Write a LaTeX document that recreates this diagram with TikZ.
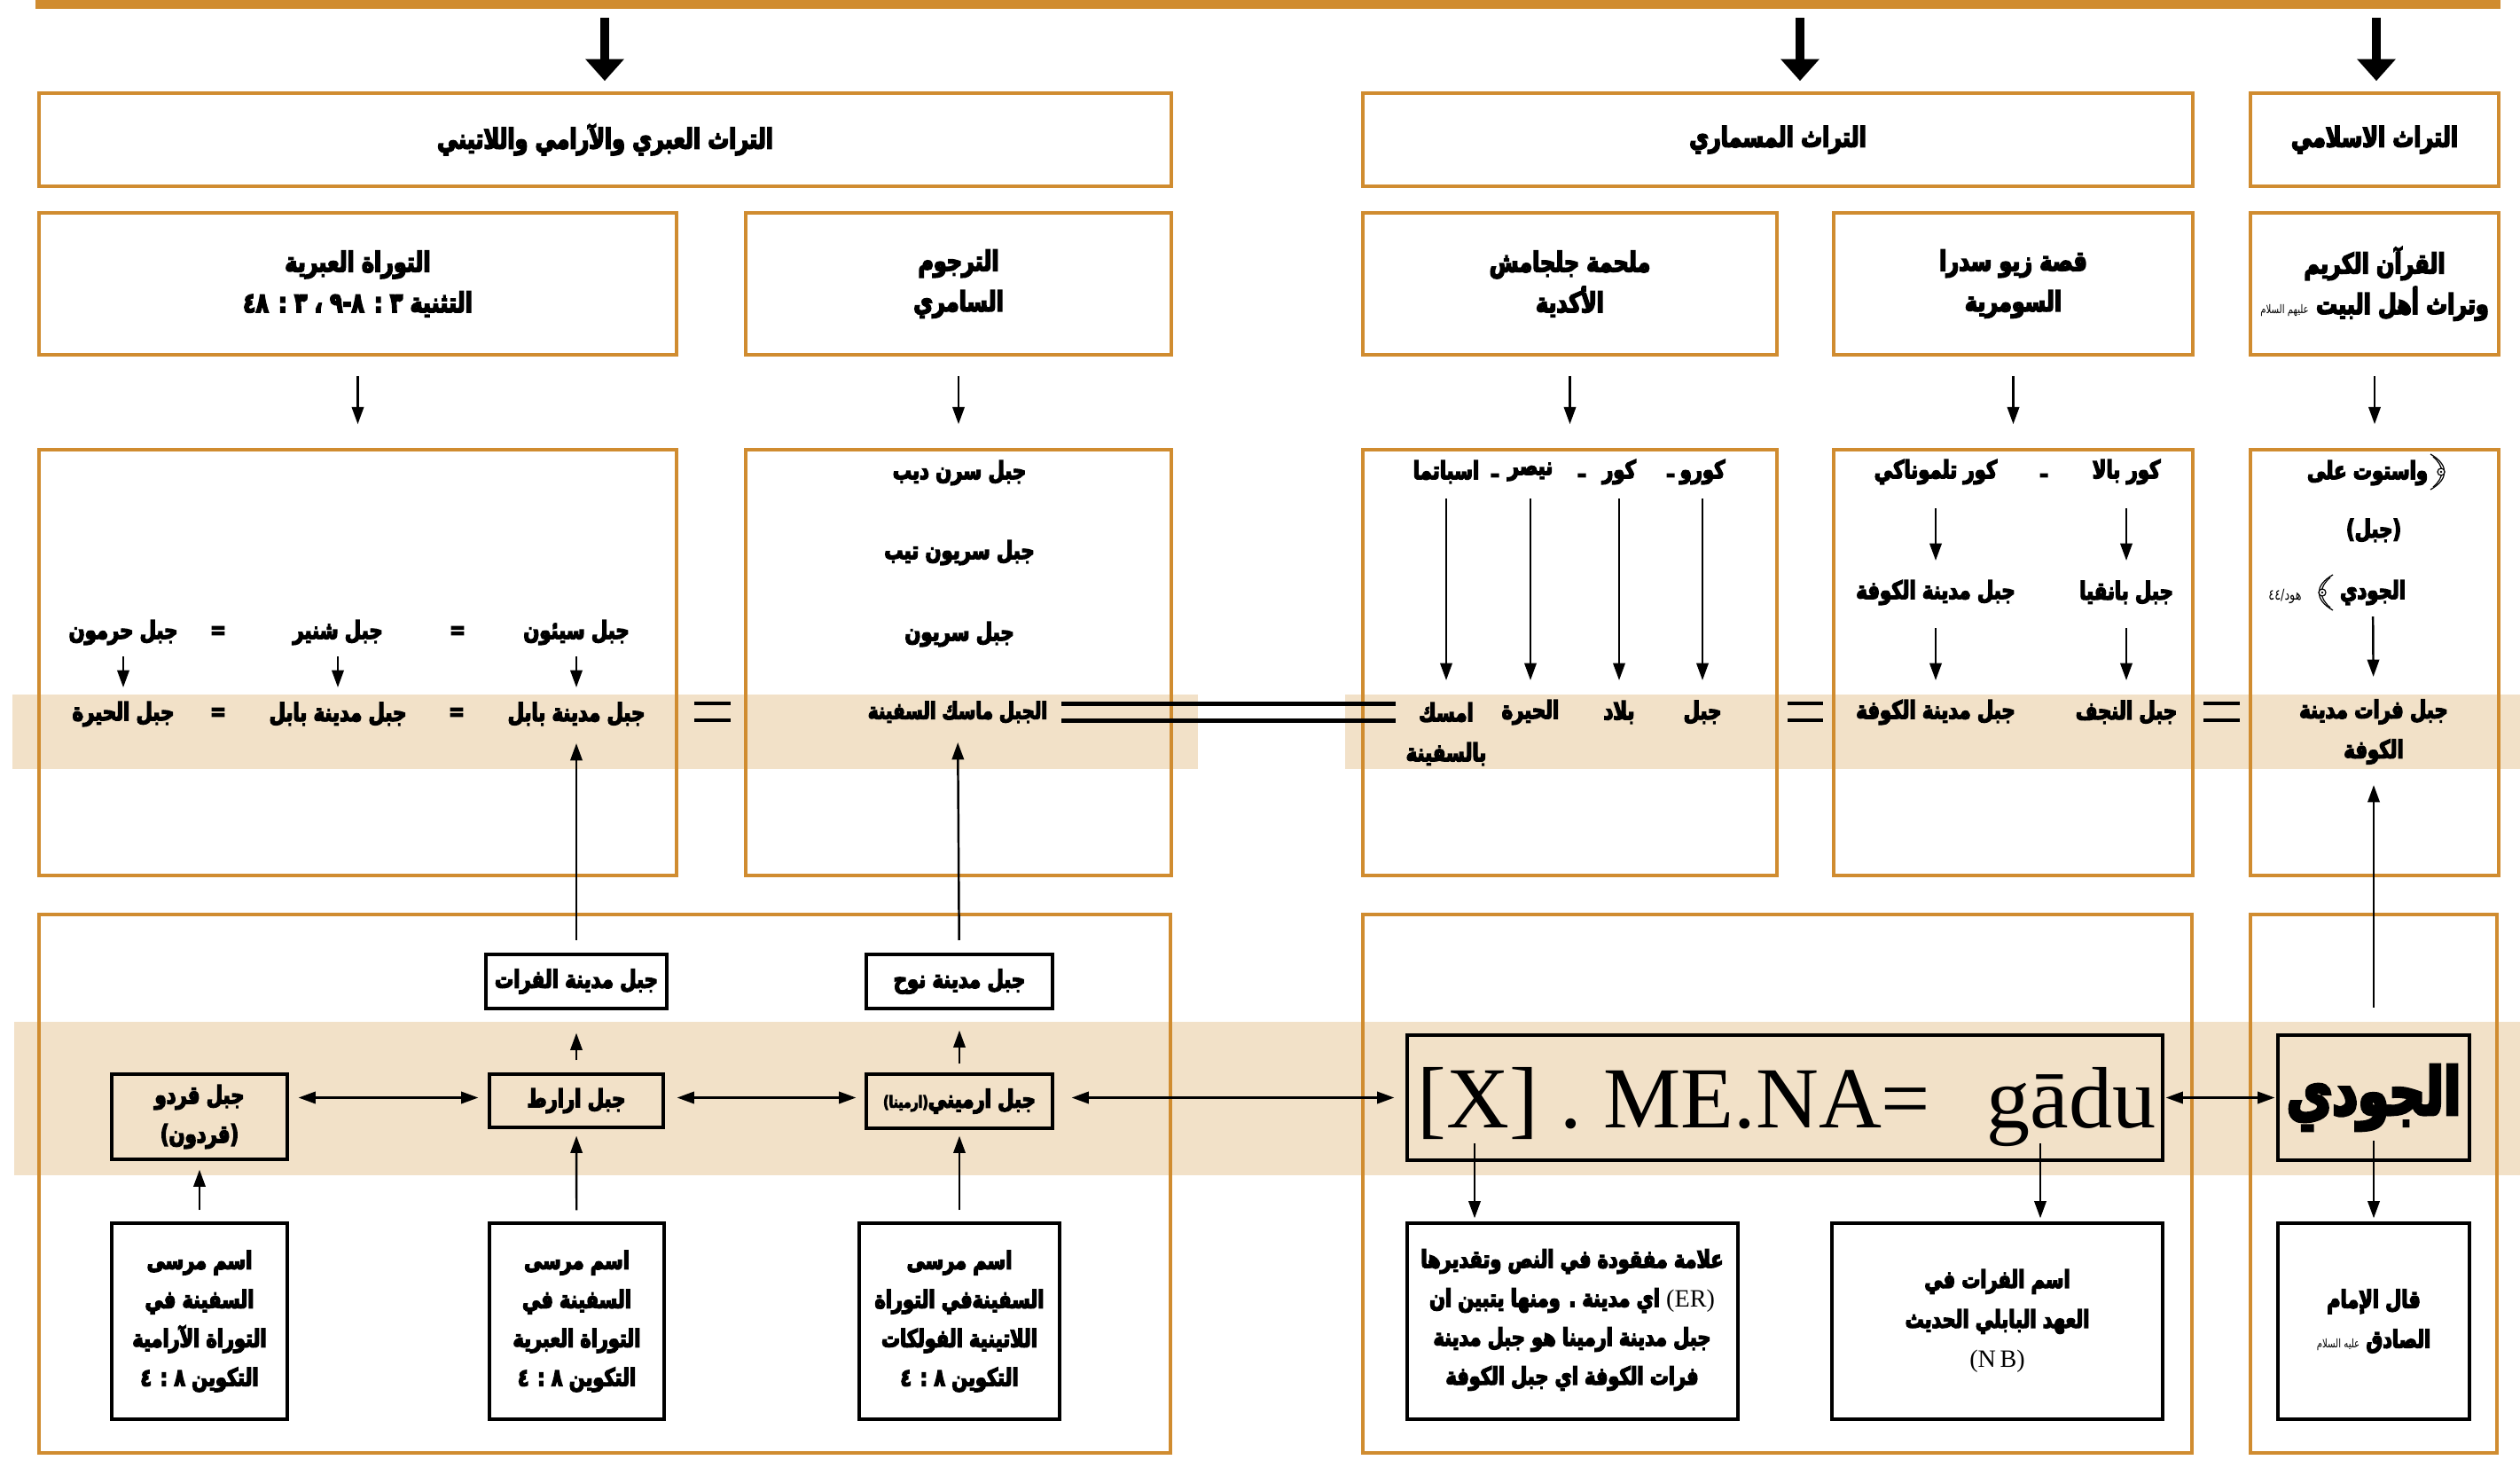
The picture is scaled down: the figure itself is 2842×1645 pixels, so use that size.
\documentclass[tikz,border=0pt]{standalone}
\usepackage{fontspec}
\usetikzlibrary{arrows.meta,fit}
\TeXXeTstate=1
\newfontfamily\arfont[Script=Arabic, FakeStretch=0.76, BoldFeatures={FakeBold=5}]{DejaVu Sans}
\newfontfamily\latfont{Liberation Serif}
\definecolor{obrd}{RGB}{208,140,48}
\definecolor{bandc}{RGB}{242,225,200}
\newcommand\R[1]{\beginR #1\endR}
\newcommand\fsz[2]{\fontsize{#1pt}{#2pt}\selectfont}
\newcommand\hon[1]{{\mdseries\fsz{3.8}{4}#1}}
\tikzset{
  obox/.style={draw=obrd, line width=1pt, inner sep=0pt},
  kbox/.style={draw=black, line width=0.9pt, inner sep=0pt},
  hd/.style={inner sep=0pt, align=center, font=\arfont\bfseries\fsz{8.9}{13}},
  tx/.style={inner sep=0pt, align=center, font=\arfont\bfseries\fsz{7.9}{13}},
  tl/.style={inner sep=0pt, align=center, font=\arfont\bfseries\fsz{7.8}{12.5}},
  lt/.style={inner sep=0pt, font=\latfont\fsz{27.9}{30}},
  arr/.style={-{Triangle[length=5.5pt,width=3.8pt]}, line width=0.7pt},
  darr/.style={{Triangle[length=5.5pt,width=3.8pt]}-{Triangle[length=5.5pt,width=3.8pt]}, line width=0.7pt},
  bigarr/.style={-{Triangle[length=7pt,width=12pt]}, line width=2.8pt},
  thk/.style={line width=0.045cm},
  ornl/.style={line width=0.35pt}
}
\begin{document}
\begin{tikzpicture}[x=0.01cm,y=-0.01cm]
\useasboundingbox (0,0) rectangle (2842,1645);
% bands
\fill[bandc] (14,783) rectangle (1351,867);
\fill[bandc] (1517,783) rectangle (2842,867);
\fill[bandc] (16,1152) rectangle (2842,1325);
% top bar
\fill[obrd] (40,0) rectangle (2820,10);
% header boxes
\node[obox, fit={(44,105)(1321,210)}] (hA) {};
\node[obox, fit={(1537,105)(2473,210)}] (hB) {};
\node[obox, fit={(2538,105)(2818,210)}] (hC) {};
\node[hd] (hAt) at (hA) {\R{التراث العبري والآرامي واللاتيني}};
\node[hd] (hBt) at (hB) {\R{التراث المسماري}};
\node[hd] (hCt) at (hC) {\R{التراث الاسلامي}};
\coordinate (a1s) at (682,20);
\coordinate (a2s) at (2030,20);
\coordinate (a3s) at (2680,20);
\draw[bigarr, shorten >=0.12cm] (a1s) -- (a1s |- hA.north);
\draw[bigarr, shorten >=0.12cm] (a2s) -- (a2s |- hB.north);
\draw[bigarr, shorten >=0.12cm] (a3s) -- (a3s |- hC.north);
% row 2
\node[obox, fit={(44,240)(763,400)}] (s1) {};
\node[obox, fit={(841,240)(1321,400)}] (s2) {};
\node[obox, fit={(1537,240)(2004,400)}] (s3) {};
\node[obox, fit={(2068,240)(2473,400)}] (s4) {};
\node[obox, fit={(2538,240)(2818,400)}] (s5) {};
\node[hd] (s1t) at (s1) {\R{التوراة العبرية}\\\R{التثنية ٣ : ٨-٩ ، ٣ : ٤٨}};
\node[hd] (s2t) at (s2) {\R{الترجوم}\\\R{السامري}};
\node[hd] (s3t) at (s3) {\R{ملحمة جلجامش}\\\R{الأكدية}};
\node[hd] (s4t) at (s4) {\R{قصة زيو سدرا}\\\R{السومرية}};
\node[hd] (s5t) at (s5) {\R{القرآن الكريم}\\\R{وتراث أهل البيت \hon{عليهم السلام}}};
% row 3
\node[obox, fit={(44,507)(763,987)}] (t1) {};
\node[obox, fit={(841,507)(1321,987)}] (t2) {};
\node[obox, fit={(1537,507)(2004,987)}] (t3) {};
\node[obox, fit={(2068,507)(2473,987)}] (t4) {};
\node[obox, fit={(2538,507)(2818,987)}] (t5) {};
\foreach \i in {1,...,5} {\draw[arr, shorten <=0.22cm, shorten >=0.27cm] (s\i) -- (t\i);}
% t1
\node[tx] (n11) at (650,713) {\R{جبل سيئون}};
\node[tx] (e11) at (516,713) {=};
\node[tx] (n12) at (381,713) {\R{جبل شنير}};
\node[tx] (e12) at (246,713) {=};
\node[tx] (n13) at (139,713) {\R{جبل حرمون}};
\node[tx] (m11) at (650,805) {\R{جبل مدينة بابل}};
\node[tx] (e13) at (515,805) {=};
\node[tx] (m12) at (381,805) {\R{جبل مدينة بابل}};
\node[tx] (e14) at (246,805) {=};
\node[tx] (m13) at (139,805) {\R{جبل الحيرة}};
\draw[arr, shorten <=0.27cm, shorten >=0.30cm] (n11.center) -- (m11.center);
\draw[arr, shorten <=0.27cm, shorten >=0.30cm] (n12.center) -- (m12.center);
\draw[arr, shorten <=0.27cm, shorten >=0.30cm] (n13.center) -- (m13.center);
% t2
\node[tx] (r1) at (1082,533) {\R{جبل سرن ديب}};
\node[tx] (r2) at (1082,623) {\R{جبل سريون تيب}};
\node[tx] (r3) at (1082,715) {\R{جبل سريون}};
\node[tx, font=\arfont\bfseries\fsz{7.4}{13}] (m2) at (1080,803) {\R{الجبل ماسك السفينة}};
% equality bars
\draw[thk] (783,793) -- (824,793); \draw[thk] (783,812) -- (824,812);
\draw[thk] (2016,793) -- (2056,793); \draw[thk] (2016,812) -- (2056,812);
\draw[thk] (2485,793) -- (2526,793); \draw[thk] (2485,812) -- (2526,812);
% t3
\node[tx] (k1) at (1920,532) {\R{كورو}};
\node[tx] (d1) at (1884,536) {\R{ـ}};
\node[tx] (k2) at (1826,532) {\R{كور}};
\node[tx] (d2) at (1784,536) {\R{ـ}};
\node[tx] (k3) at (1726,532) {\R{نيصر}};
\node[tx] (d3) at (1686,536) {\R{ـ}};
\node[tx] (k4) at (1631,532) {\R{اسباتما}};
\node[tx] (w1) at (1920,803) {\R{جبل}};
\node[tx] (w2) at (1826,803) {\R{بلاد}};
\node[tx] (w3) at (1726,803) {\R{الحيرة}};
\node[tx] (w4) at (1631,803) {\R{امسك}};
\node[tx] (w5) at (1631,850) {\R{بالسفينة}};
\draw[arr, shorten <=0.30cm, shorten >=0.36cm] (k1.center) -- (w1.center);
\draw[arr, shorten <=0.30cm, shorten >=0.36cm] (k2.center) -- (w2.center);
\draw[arr, shorten <=0.30cm, shorten >=0.36cm] (k3.center) -- (w3.center);
\draw[arr, shorten <=0.30cm, shorten >=0.36cm] (k4.center) -- (w4.center);
\draw[thk, shorten <=1.17cm, shorten >=0.57cm] ([yshift=0.095cm]m2.center) -- ([yshift=0.095cm]w4.center);
\draw[thk, shorten <=1.17cm, shorten >=0.57cm] ([yshift=-0.095cm]m2.center) -- ([yshift=-0.095cm]w4.center);
% t4
\node[tx] (c1) at (2398,532) {\R{كور بالا}};
\node[tx] (cd) at (2305,536) {\R{ـ}};
\node[tx] (c2) at (2183,532) {\R{كور تلموناكي}};
\node[tx] (c3) at (2398,668) {\R{جبل بانقيا}};
\node[tx] (c4) at (2183,668) {\R{جبل مدينة الكوفة}};
\node[tx] (c5) at (2398,803) {\R{جبل النجف}};
\node[tx] (c6) at (2183,803) {\R{جبل مدينة الكوفة}};
\draw[arr, shorten <=0.41cm, shorten >=0.36cm] (c1.center) -- (c3.center);
\draw[arr, shorten <=0.41cm, shorten >=0.36cm] (c2.center) -- (c4.center);
\draw[arr, shorten <=0.40cm, shorten >=0.36cm] (c3.center) -- (c5.center);
\draw[arr, shorten <=0.40cm, shorten >=0.36cm] (c4.center) -- (c6.center);
% t5
\node[tx] (q1) at (2670,533) {\R{واستوت على}};
\node[tx] (q2) at (2677,598) {\R{(جبل)}};
\node[tx] (q3) at (2676,668) {\R{الجودي}};
\node[inner sep=0pt, font=\arfont\fsz{4.8}{5}] (q3s) at (2577,672) {\R{هود/٤٤}};
\node[tx, font=\arfont\bfseries\fsz{7.9}{12.8}] (q4) at (2677,825) {\R{جبل فرات مدينة}\\\R{الكوفة}};
\draw[arr, shorten <=0.27cm, shorten >=0.62cm] (q3.center) -- (q4.center);
% ornate Quranic brackets (no installed font has these glyphs)
\draw[ornl] (2741,512) .. controls (2762,524) and (2762,540) .. (2741,552);
\draw[ornl] (2744,515) .. controls (2757,526) and (2757,538) .. (2744,549);
\draw[ornl, fill=white] (2753,532) circle (4);
\fill (2753,532) circle (1.3);
\draw[ornl] (2631,648) .. controls (2610,660) and (2610,676) .. (2631,688);
\draw[ornl] (2628,651) .. controls (2615,662) and (2615,674) .. (2628,685);
\draw[ornl, fill=white] (2619,668) circle (4);
\fill (2619,668) circle (1.3);
% row 4
\node[obox, fit={(44,1031)(1320,1638)}] (u1) {};
\node[obox, fit={(1537,1031)(2472,1638)}] (u2) {};
\node[obox, fit={(2538,1031)(2816,1638)}] (u3) {};
\node[kbox, fit={(548,1076)(752,1137)}] (f1) {};
\node[kbox, fit={(977,1076)(1187,1137)}] (f2) {};
\node[kbox, fit={(126,1211)(324,1307)}] (qd) {};
\node[kbox, fit={(552,1211)(748,1271)}] (ar) {};
\node[kbox, fit={(977,1211)(1187,1272)}] (am) {};
\node[kbox, fit={(1587,1167)(2439,1308)}] (xb) {};
\node[kbox, fit={(2569,1167)(2785,1308)}] (jd) {};
\node[kbox, fit={(126,1379)(324,1600)}] (l1) {};
\node[kbox, fit={(552,1379)(749,1600)}] (l2) {};
\node[kbox, fit={(969,1379)(1195,1600)}] (l3) {};
\node[kbox, fit={(1587,1379)(1960,1600)}] (l4) {};
\node[kbox, fit={(2066,1379)(2439,1600)}] (l5) {};
\node[kbox, fit={(2569,1379)(2785,1600)}] (l6) {};
\node[tx] (f1t) at (f1) {\R{جبل مدينة الفرات}};
\node[tx] (f2t) at (f2) {\R{جبل مدينة نوح}};
\node[tx, font=\arfont\bfseries\fsz{7.9}{12.5}] (qdt) at (qd) {\R{جبل قردو}\\\R{(قردون)}};
\node[tx] (art) at (ar) {\R{جبل ارارط}};
\node[tx] (amt) at (am) {\R{جبل ارميني{\fsz{5.2}{6}(ارمينا)}}};
\node[lt, anchor=base west] (xt1) at (1598,1271) {[X] . ME.NA=};
\node[lt, anchor=base east] (xt2) at (2432,1271) {gādu};
\node[tx, font=\arfont\bfseries\fsz{21}{24}] (jdt) at (jd) {\R{الجودي}};
\node[tl] (l1t) at (l1) {\R{اسم مرسى}\\\R{السفينة في}\\\R{التوراة الآرامية}\\\R{التكوين ٨ : ٤}};
\node[tl] (l2t) at (l2) {\R{اسم مرسى}\\\R{السفينة في}\\\R{التوراة العبرية}\\\R{التكوين ٨ : ٤}};
\node[tl] (l3t) at (l3) {\R{اسم مرسى}\\\R{السفينةفي التوراة}\\\R{اللاتينية الفولكات}\\\R{التكوين ٨ : ٤}};
\node[tl] (l4t) at (1773,1488) {\R{علامة مفقودة في النص وتقديرها}\\\R{\beginL{\latfont\mdseries\fsz{8}{12.5}(ER)}\endL{} اي مدينة . ومنها يتبين ان}\\\R{جبل مدينة ارمينا هو جبل مدينة}\\\R{فرات الكوفة اي جبل الكوفة}};
\node[tl, font=\arfont\bfseries\fsz{7.8}{12.8}] (l5t) at (l5) {\R{اسم الفرات في}\\\R{العهد البابلي الحديث}\\{\latfont\mdseries\fsz{8}{12.8}(N\,B)}};
\node[tl, font=\arfont\bfseries\fsz{7.8}{12.8}] (l6t) at (l6) {\R{قال الإمام}\\\R{الصادق \hon{عليه السلام}}};
% row 4 connectors
\draw[arr, shorten <=0.465cm, shorten >=0.33cm] (f1.center) -- (m11.center);
\draw[arr, shorten <=0.465cm, shorten >=0.34cm] (f2.center) -- (m2.center);
\draw[arr, shorten <=0.14cm, shorten >=0.26cm] (ar) -- (f1);
\draw[arr, shorten <=0.10cm, shorten >=0.23cm] (am) -- (f2);
\draw[arr, shorten <=0.13cm, shorten >=0.10cm] (l1) -- (qd);
\draw[arr, shorten <=0.13cm, shorten >=0.08cm] (l2) -- (ar);
\draw[arr, shorten <=0.13cm, shorten >=0.07cm] (l3) -- (am);
\draw[darr, shorten <=0.11cm, shorten >=0.11cm] (qd.east |- xb.center) -- (ar.west |- xb.center);
\draw[darr, shorten <=0.14cm, shorten >=0.10cm] (ar.east |- xb.center) -- (am.west |- xb.center);
\draw[darr, shorten <=0.20cm, shorten >=0.13cm] (am.east |- xb.center) -- (xb.west);
\draw[darr, shorten <=0.02cm, shorten >=0.02cm] (xb.east) -- (jd.west);
\coordinate (xa) at (1663,1289);
\coordinate (ga) at (2301,1289);
\draw[arr, shorten >=0.04cm] (xa) -- (xa |- l4.north);
\draw[arr, shorten >=0.04cm] (ga) -- (ga |- l5.north);
\draw[arr, shorten <=0.485cm, shorten >=0.04cm] (jd.center) -- (l6.north);
\draw[arr, shorten <=1.015cm, shorten >=0.60cm] (jd.center) -- (q4.center);
\end{tikzpicture}
\end{document}
